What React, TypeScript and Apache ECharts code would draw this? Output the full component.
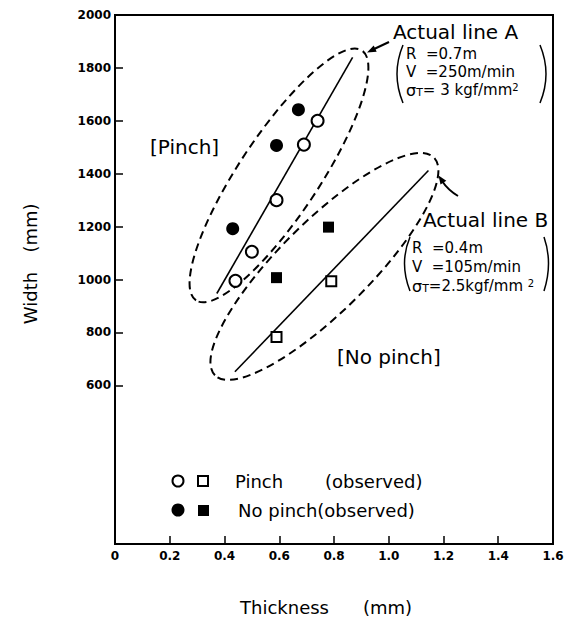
import React, { useEffect, useRef } from "react";
import * as echarts from "echarts";

// ---- data ----
const xTicks = [0, 0.2, 0.4, 0.6, 0.8, 1.0, 1.2, 1.4, 1.6];
const yTickLabels = [600, 800, 1000, 1200, 1400, 1600, 1800, 2000];

// Pinch (observed) – open circles
const pinchCircles: number[][] = [
  [0.74, 1600],
  [0.69, 1510],
  [0.59, 1300],
  [0.5, 1105],
  [0.44, 995],
];
// No pinch (observed) – filled circles
const noPinchCircles: number[][] = [
  [0.67, 1642],
  [0.59, 1507],
  [0.43, 1192],
];
// Pinch (observed) – open squares
const pinchSquares: number[][] = [
  [0.79, 993],
  [0.59, 783],
];
// No pinch (observed) – filled squares
const noPinchSquares: number[][] = [
  [0.78, 1198],
  [0.59, 1007],
];
// Actual lines
const lineA: number[][] = [
  [0.372, 947],
  [0.868, 1840],
];
const lineB: number[][] = [
  [0.438, 651],
  [1.145, 1412],
];
// Dashed regions: [x tip1, y tip1, x tip2, y tip2]
const regionA = [0.296, 921, 0.902, 1866];
const regionB = [0.365, 638, 1.165, 1461];
const regionHalfWidthPx = [40, 45];

const FONT = "DejaVu Sans";

export default function App() {
  const ref = useRef<HTMLDivElement>(null);
  useEffect(() => {
    if (!ref.current) return;
    const chart = echarts.init(ref.current, undefined, { renderer: "svg" });
    const txt = (text: string, x: number, y: number, size: number, extra: any = {}) => ({
      type: "text",
      x,
      y,
      style: {
        text,
        fill: "#000",
        font: `${size}px "${FONT}"`,
        textAlign: "left",
        textVerticalAlign: "middle",
        ...extra,
      },
    });
    const sigmaLine = (x: number, y: number, rest: string) => ({
      type: "text",
      x,
      y,
      style: {
        text: `{s|σ}{t|T}{n|${rest}}{p|2}`,
        fill: "#000",
        textAlign: "left",
        textVerticalAlign: "middle",
        rich: {
          s: { fontFamily: FONT, fontSize: 16, fill: "#000", lineHeight: 15, verticalAlign: "middle" },
          t: { fontFamily: FONT, fontSize: 11, fill: "#000", lineHeight: 15, verticalAlign: "bottom" },
          n: { fontFamily: FONT, fontSize: 15, fill: "#000", lineHeight: 15, verticalAlign: "middle" },
          p: { fontFamily: FONT, fontSize: 10, fill: "#000", lineHeight: 15, verticalAlign: "top" },
        },
      },
    });
    const paren = (x1: number, y1: number, cx: number, cy: number, x2: number, y2: number) => ({
      type: "bezierCurve",
      shape: { x1, y1, x2, y2, cpx1: cx, cpy1: cy },
      style: { stroke: "#000", lineWidth: 1.5, fill: "none" },
    });
    const nb = "\u00a0";
    const small = { lineHeight: 15 };

    const ellipseSeries = (reg: number[], hw: number) => ({
      type: "custom",
      silent: true,
      clip: false,
      z: 1,
      data: [reg],
      renderItem: (_p: any, api: any) => {
        const p1 = api.coord([api.value(0), api.value(1)]);
        const p2 = api.coord([api.value(2), api.value(3)]);
        const cx = (p1[0] + p2[0]) / 2;
        const cy = (p1[1] + p2[1]) / 2;
        const a = Math.hypot(p2[0] - p1[0], p2[1] - p1[1]) / 2;
        const ang = Math.atan2(-(p2[1] - p1[1]), p2[0] - p1[0]);
        return {
          type: "ellipse",
          x: cx,
          y: cy,
          rotation: ang,
          shape: { cx: 0, cy: 0, rx: a, ry: hw },
          style: { fill: "none", stroke: "#000", lineWidth: 2, lineDash: [8, 5] },
        };
      },
    });

    chart.setOption({
      animation: false,
      backgroundColor: "#fff",
      grid: {
        left: 115,
        right: 18,
        top: 15,
        bottom: 93,
        show: true,
        borderColor: "#000",
        borderWidth: 2,
        backgroundColor: "transparent",
      },
      xAxis: {
        type: "value",
        min: 0,
        max: 1.6,
        interval: 0.2,
        axisLine: { show: true, lineStyle: { color: "#000", width: 2 } },
        axisTick: { show: true, inside: true, length: 8, lineStyle: { color: "#000", width: 1.5 } },
        splitLine: { show: false },
        axisLabel: {
          color: "#000",
          fontFamily: FONT,
          fontWeight: "bold",
          fontSize: 12,
          margin: 6,
          customValues: xTicks,
          formatter: (v: number) => (v === 0 ? "0" : v.toFixed(1)),
        },
      },
      yAxis: {
        type: "value",
        min: 0,
        max: 2000,
        interval: 200,
        axisLine: { show: true, lineStyle: { color: "#000", width: 2 } },
        axisTick: {
          show: true,
          inside: true,
          length: 8,
          customValues: yTickLabels,
          lineStyle: { color: "#000", width: 1.5 },
        },
        splitLine: { show: false },
        axisLabel: {
          color: "#000",
          fontFamily: FONT,
          fontWeight: "bold",
          fontSize: 12,
          margin: 4,
          customValues: yTickLabels,
          formatter: (v: number) => String(v),
        },
      },
      series: [
        ellipseSeries(regionA, regionHalfWidthPx[0]),
        ellipseSeries(regionB, regionHalfWidthPx[1]),
        {
          type: "line",
          data: lineA,
          symbol: "none",
          lineStyle: { color: "#000", width: 1.6 },
          z: 2,
        },
        {
          type: "line",
          data: lineB,
          symbol: "none",
          lineStyle: { color: "#000", width: 1.6 },
          z: 2,
        },
        {
          type: "scatter",
          data: pinchCircles,
          symbol: "circle",
          symbolSize: 12,
          itemStyle: { color: "#fff", borderColor: "#000", borderWidth: 2, opacity: 1 },
          z: 3,
        },
        {
          type: "scatter",
          data: noPinchCircles,
          symbol: "circle",
          symbolSize: 13,
          itemStyle: { color: "#000", opacity: 1 },
          z: 3,
        },
        {
          type: "scatter",
          data: pinchSquares,
          symbol: "rect",
          symbolSize: 10,
          itemStyle: { color: "#fff", borderColor: "#000", borderWidth: 2, opacity: 1 },
          z: 3,
        },
        {
          type: "scatter",
          data: noPinchSquares,
          symbol: "rect",
          symbolSize: 11,
          itemStyle: { color: "#000", opacity: 1 },
          z: 3,
        },
      ],
      graphic: [
        // axis titles
        txt("Thickness", 240, 607, 18),
        txt("(mm)", 363, 607, 18),
        { ...txt("Width", 30, 298, 18, { textAlign: "center" }), rotation: Math.PI / 2 },
        { ...txt("(mm)", 30, 228, 18, { textAlign: "center" }), rotation: Math.PI / 2 },
        // region labels
        txt("[Pinch]", 150, 147, 20),
        txt("[No pinch]", 337, 357, 20),
        // Actual line A
        txt("Actual line A", 393, 32, 20),
        txt(`R${nb}${nb}=0.7m`, 406, 54, 15, small),
        txt(`V${nb}${nb}=250m/min`, 406, 72, 15, small),
        sigmaLine(406, 90, `=${nb}3${nb}kgf/mm`),
        paren(403, 45, 391, 74, 403, 103),
        paren(540, 45, 552, 74, 540, 103),
        { type: "line", shape: { x1: 389, y1: 42, x2: 372, y2: 50 }, style: { stroke: "#000", lineWidth: 2 } },
        {
          type: "polygon",
          shape: { points: [[367, 52.5], [376.7, 51.8], [373.7, 45.4]] },
          style: { fill: "#000" },
        },
        // Actual line B
        txt("Actual line B", 423, 220, 20),
        txt(`R${nb}${nb}=0.4m`, 412, 248, 15, small),
        txt(`V${nb}${nb}=105m/min`, 412, 267, 15, small),
        sigmaLine(412, 286, `=2.5kgf/mm${nb}`),
        paren(410, 237, 399, 263, 410, 291),
        paren(544, 237, 553, 263, 544, 291),
        {
          type: "bezierCurve",
          shape: { x1: 458, y1: 196, x2: 442, y2: 181, cpx1: 448, cpy1: 190 },
          style: { stroke: "#000", lineWidth: 2, fill: "none" },
        },
        {
          type: "polygon",
          shape: { points: [[438.5, 175.5], [446.3, 180.8], [440.5, 184.6]] },
          style: { fill: "#000" },
        },
        // legend
        { type: "circle", shape: { cx: 178, cy: 481, r: 5.5 }, style: { fill: "#fff", stroke: "#000", lineWidth: 2 } },
        { type: "rect", shape: { x: 198, y: 476, width: 10, height: 10 }, style: { fill: "#fff", stroke: "#000", lineWidth: 2 } },
        txt("Pinch", 235, 481, 18),
        txt("(observed)", 325, 481, 18),
        { type: "circle", shape: { cx: 178, cy: 510, r: 6.5 }, style: { fill: "#000" } },
        { type: "rect", shape: { x: 198, y: 505, width: 11, height: 11 }, style: { fill: "#000" } },
        txt("No pinch(observed)", 238, 510, 18),
      ],
    });
    return () => chart.dispose();
  }, []);
  return (
    <div
      ref={ref}
      style={{ position: "fixed", left: 0, top: 0, width: 571, height: 637, background: "#fff" }}
    />
  );
}
